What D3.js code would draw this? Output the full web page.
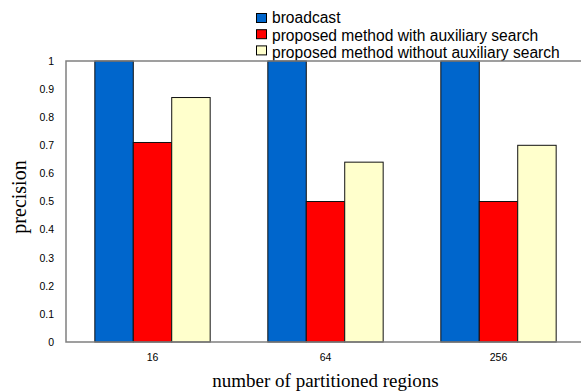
<!DOCTYPE html>
<html>
<head>
<meta charset="utf-8">
<script src="https://cdn.jsdelivr.net/npm/d3@7"></script>
<style>
  body { margin: 0; background: #fff; }
  svg { display: block; }
</style>
</head>
<body>
<div id="svgContainer"></div>
<script>
var categories = ["16", "64", "256"]
var seriesNames = ["broadcast", "proposed method with auxiliary search", "proposed method without auxiliary search"]
var broadcast = [1, 1, 1]
var withAux = [0.71, 0.5, 0.5]
var withoutAux = [0.87, 0.64, 0.70]
var yTicks = [0, 0.1, 0.2, 0.3, 0.4, 0.5, 0.6, 0.7, 0.8, 0.9, 1]
var colors = ["#0066cc", "#ff0000", "#ffffcc"]

function drawChart() {
    let width = 581, height = 392;
    var margin = { top: 61, right: -4, bottom: 50, left: 66 },
        plot_width = width - margin.left - margin.right,
        plot_height = height - margin.top - margin.bottom;

    var series = [broadcast, withAux, withoutAux]
    var rows = categories.map((c, i) => ({ cat: c, values: series.map((s, j) => ({ key: seriesNames[j], value: s[i], idx: j })) }))

    var svg = d3.select("#svgContainer")
        .append("svg")
        .attr("width", width)
        .attr("height", height)
        .attr("viewBox", [0, 0, width, height])

    // legend (drawn first so the plot area covers the bottom of the last line)
    var legend = svg.append("g").attr("transform", "translate(256,0)")
    seriesNames.forEach((name, i) => {
        legend.append("rect")
            .attr("x", 0.5).attr("y", 13.5 + i * 16.2)
            .attr("width", 10).attr("height", 9)
            .attr("fill", colors[i])
            .attr("stroke", "#000")
        legend.append("text")
            .attr("x", 16)
            .attr("y", 23 + i * 17.6)
            .style("font-family", "'Liberation Sans', Arial, sans-serif")
            .style("font-size", "15.6px")
            .text(name)
    })

    var g = svg.append("g")
        .attr("transform", `translate(${margin.left},${margin.top})`)

    g.append("rect")
        .attr("width", plot_width)
        .attr("height", plot_height)
        .attr("fill", "#fff")

    var x0 = d3.scaleBand()
        .domain(categories)
        .range([0, plot_width])
    var x1 = d3.scaleBand()
        .domain(seriesNames)
        .range([0, x0.bandwidth()])
        .paddingOuter(0.75)
    var yScale = d3.scaleLinear()
        .domain([0, 1])
        .range([plot_height, 0])

    //bars
    g.selectAll("g.group")
        .data(rows)
        .enter()
        .append("g")
        .attr("class", "group")
        .attr("transform", d => `translate(${x0(d.cat)},0)`)
        .selectAll("rect")
        .data(d => d.values)
        .enter()
        .append("rect")
        .attr("x", d => x1(d.key))
        .attr("y", d => yScale(d.value))
        .attr("width", x1.bandwidth())
        .attr("height", d => plot_height - yScale(d.value))
        .attr("fill", d => colors[d.idx])
        .attr("stroke", "#111")
        .attr("stroke-width", 1)

    // frame: left, top, bottom
    g.append("path")
        .attr("d", d3.line()([[plot_width + 5, 0], [0, 0], [0, plot_height], [plot_width + 5, plot_height]]))
        .attr("fill", "none")
        .attr("stroke", "#808080")
        .attr("stroke-width", 1.5)

    // y-axis labels
    var yAxis = g.append("g")
        .attr("class", "axis axis-y")
        .call(d3.axisLeft(yScale).tickValues(yTicks).tickSize(0).tickPadding(12).tickFormat(d3.format("~g")))
    yAxis.select(".domain").remove()
    yAxis.selectAll("text")
        .style("font-family", "'Liberation Sans', Arial, sans-serif")
        .style("font-size", "10.5px")
        .attr("fill", "#000")

    // x-axis labels
    var xAxis = g.append("g")
        .attr("class", "axis axis-x")
        .attr("transform", `translate(0,${plot_height})`)
        .call(d3.axisBottom(x0).tickSize(0).tickPadding(12))
    xAxis.select(".domain").remove()
    xAxis.selectAll("text")
        .style("font-family", "'Liberation Sans', Arial, sans-serif")
        .style("font-size", "10.5px")
        .attr("fill", "#000")

    svg.append("text")
        .attr("transform", "rotate(-90)")
        .attr("x", -197)
        .attr("y", 26)
        .style("text-anchor", "middle")
        .style("font-family", "'Liberation Serif', 'Times New Roman', serif")
        .style("font-size", "20px")
        .text("precision");
    svg.append("text")
        .attr("x", margin.left + plot_width / 2)
        .attr("y", 387)
        .attr("text-anchor", "middle")
        .style("font-family", "'Liberation Serif', 'Times New Roman', serif")
        .style("font-size", "19px")
        .text("number of partitioned regions");
}
drawChart();
</script>
</body>
</html>
